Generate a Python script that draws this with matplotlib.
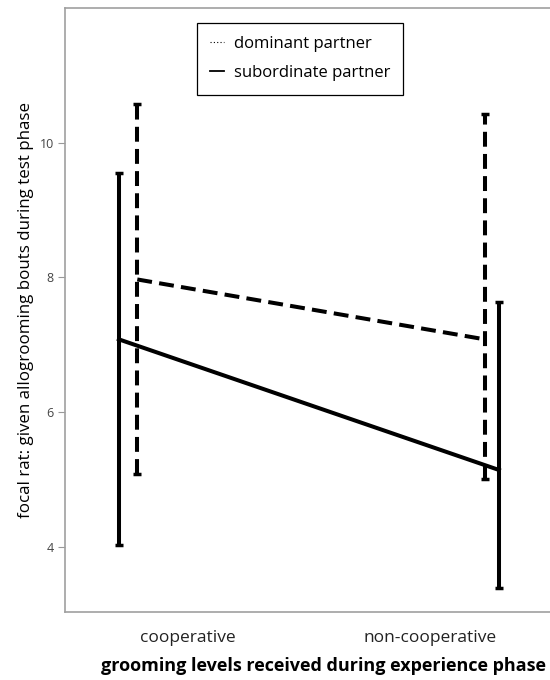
import matplotlib.pyplot as plt
from matplotlib.lines import Line2D

plt.rcParams["font.family"] = ["Open Sans", "DejaVu Sans"]

# category positions on the x axis (tick labels) and per-series x positions
categories = ["cooperative", "non-cooperative"]
cat_pos = [0.0, 1.0]
dom_x = [-0.209, 1.227]
sub_x = [-0.285, 1.285]

# means and error bar limits
dom_mean = [7.97, 7.08]
dom_low = [5.08, 5.00]
dom_high = [10.57, 10.43]

sub_mean = [7.08, 5.14]
sub_low = [4.02, 3.38]
sub_high = [9.55, 7.63]

fig = plt.figure(figsize=(5.5, 6.8), dpi=100)
ax = fig.add_axes([0.118, 0.1, 0.882, 0.888])

lw = 2.9
dash = (3.7, 1.8)

# dominant partner: dashed
ax.plot(dom_x, dom_mean, color="black", lw=lw, dashes=dash, solid_capstyle="butt")
eb = ax.errorbar(dom_x, dom_mean,
                 yerr=[[m - l for m, l in zip(dom_mean, dom_low)],
                       [h - m for m, h in zip(dom_mean, dom_high)]],
                 fmt="none", ecolor="black", elinewidth=lw, capsize=3, capthick=2.5)
eb.lines[2][0].set_linestyle((0, dash))

# subordinate partner: solid
ax.plot(sub_x, sub_mean, color="black", lw=lw)
ax.errorbar(sub_x, sub_mean,
            yerr=[[m - l for m, l in zip(sub_mean, sub_low)],
                  [h - m for m, h in zip(sub_mean, sub_high)]],
            fmt="none", ecolor="black", elinewidth=lw, capsize=3, capthick=2.5)

ax.set_xlim(-0.508, 1.496)
ax.set_ylim(3.03, 12.0)
ax.set_yticks([4, 6, 8, 10])
ax.set_xticks(cat_pos)
ax.set_xticklabels(categories, fontsize=12.5, color="#222222")
ax.tick_params(axis="x", length=0, pad=13)
ax.tick_params(axis="y", length=5, color="#999999", labelsize=9, labelcolor="#444444", pad=3)

ax.spines["right"].set_visible(False)
for side in ["left", "bottom", "top"]:
    ax.spines[side].set_color("#a0a0a0")
    ax.spines[side].set_linewidth(1.2)

ax.set_ylabel("focal rat: given allogrooming bouts during test phase", fontsize=12.2)
ax.yaxis.set_label_coords(-0.063, 0.5)
ax.set_xlabel("grooming levels received during experience phase", fontsize=13,
              fontweight="bold")
ax.xaxis.set_label_coords(0.533, -0.075)

handles = [Line2D([], [], color="black", lw=0.8, ls=(0, (1, 2))),
           Line2D([], [], color="black", lw=1.3)]
leg = ax.legend(handles, ["dominant partner", "subordinate partner"],
                loc="upper left", bbox_to_anchor=(0.272, 0.976), fontsize=12,
                handlelength=0.8, handletextpad=0.6, fancybox=False,
                framealpha=1, edgecolor="black", borderpad=0.8, labelspacing=0.8,
                borderaxespad=0)
leg.get_frame().set_linewidth(0.9)

fig.savefig("out.png", dpi=100)
